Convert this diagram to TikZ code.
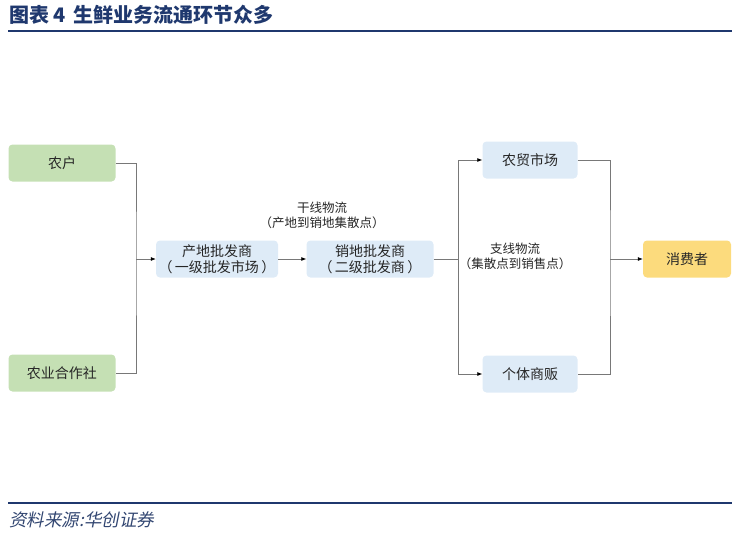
\documentclass[tikz,border=0pt]{standalone}
\usepackage{fontspec}
\newfontfamily\cjk{Noto Sans CJK SC}
\newfontfamily\cjkslant{Noto Sans CJK SC}[FakeSlant=0.2]
\definecolor{titleblue}{RGB}{31,56,110}
\definecolor{farmgreen}{RGB}{197,224,180}
\definecolor{tradeblue}{RGB}{222,235,247}
\definecolor{buyeryellow}{RGB}{252,219,125}
\definecolor{linkgray}{RGB}{120,120,120}
\definecolor{textgray}{RGB}{38,38,38}
\usetikzlibrary{arrows.meta,positioning}

\begin{document}
\begin{tikzpicture}[x=1pt,y=-1pt,
  every node/.style={font=\cjk\fontsize{14}{16}\selectfont,text=textgray,inner sep=0pt},
  box/.style={rounded corners=4pt,minimum height=37pt,align=center},
  farm/.style={box,fill=farmgreen,minimum width=107pt},
  trade/.style={box,fill=tradeblue},
  buyer/.style={box,fill=buyeryellow,minimum width=88pt},
  note/.style={font=\cjk\fontsize{12.5}{15}\selectfont,align=center},
  link/.style={draw=linkgray,line width=0.7pt},
  flow/.style={link,-{Latex[length=5pt,width=4pt,color=black]}}
  ]
  \useasboundingbox (0,0) rectangle (755,536);

  % title and rules
  \node[anchor=west,font=\cjk\bfseries\fontsize{20}{22}\selectfont,text=titleblue] (title) at (9,15) {图表 4\, 生鲜业务流通环节众多};
  \draw[titleblue,line width=1.6pt] (8,31) -- (732,31);
  \draw[titleblue,line width=1.6pt] (8,503) -- (732,503);
  \node[anchor=west,font=\cjkslant\fontsize{17.5}{19}\selectfont,text=titleblue!80!gray] (source) at (9,520) {资料来源:华创证券};

  % the producers
  \node[farm] (farmer) at (62,163) {农户};
  \node[farm] (coop) at (62,373) {农业合作社};

  % the wholesalers
  \node[trade,minimum width=122pt] (origin) at (217,259) {产地批发商\\（\,一级批发市场\,）};
  \node[trade,minimum width=127pt] (dest) at (370,259) {销地批发商\\（\,二级批发商\,）};

  % the retailers
  \node[trade,minimum width=95pt] (market) at (530,160) {农贸市场};
  \node[trade,minimum width=95pt] (vendor) at (530,374) {个体商贩};

  % the consumer
  \node[buyer] (consumer) at (687,259) {消费者};

  % the labels
  \node[note] (trunk) at (322,215) {干线物流\\（产地到销地集散点）};
  \node[note] (branch) at (515,256) {支线物流\\（集散点到销售点）};

  % the edges
  \coordinate (joinA) at (136,259);
  \coordinate (joinB) at (458,259);
  \coordinate (joinC) at (610,259);
  \draw[link] (farmer.east) -| (joinA) |- (coop.east);
  \draw[flow] (joinA) -- (origin.west);
  \draw[flow] (origin.east) -- (dest.west);
  \draw[link] (dest.east) -- (joinB);
  \draw[flow] (joinB) |- (market.west);
  \draw[flow] (joinB) |- (vendor.west);
  \draw[link] (market.east) -| (joinC) |- (vendor.east);
  \draw[flow] (joinC) -- (consumer.west);
\end{tikzpicture}
\end{document}
